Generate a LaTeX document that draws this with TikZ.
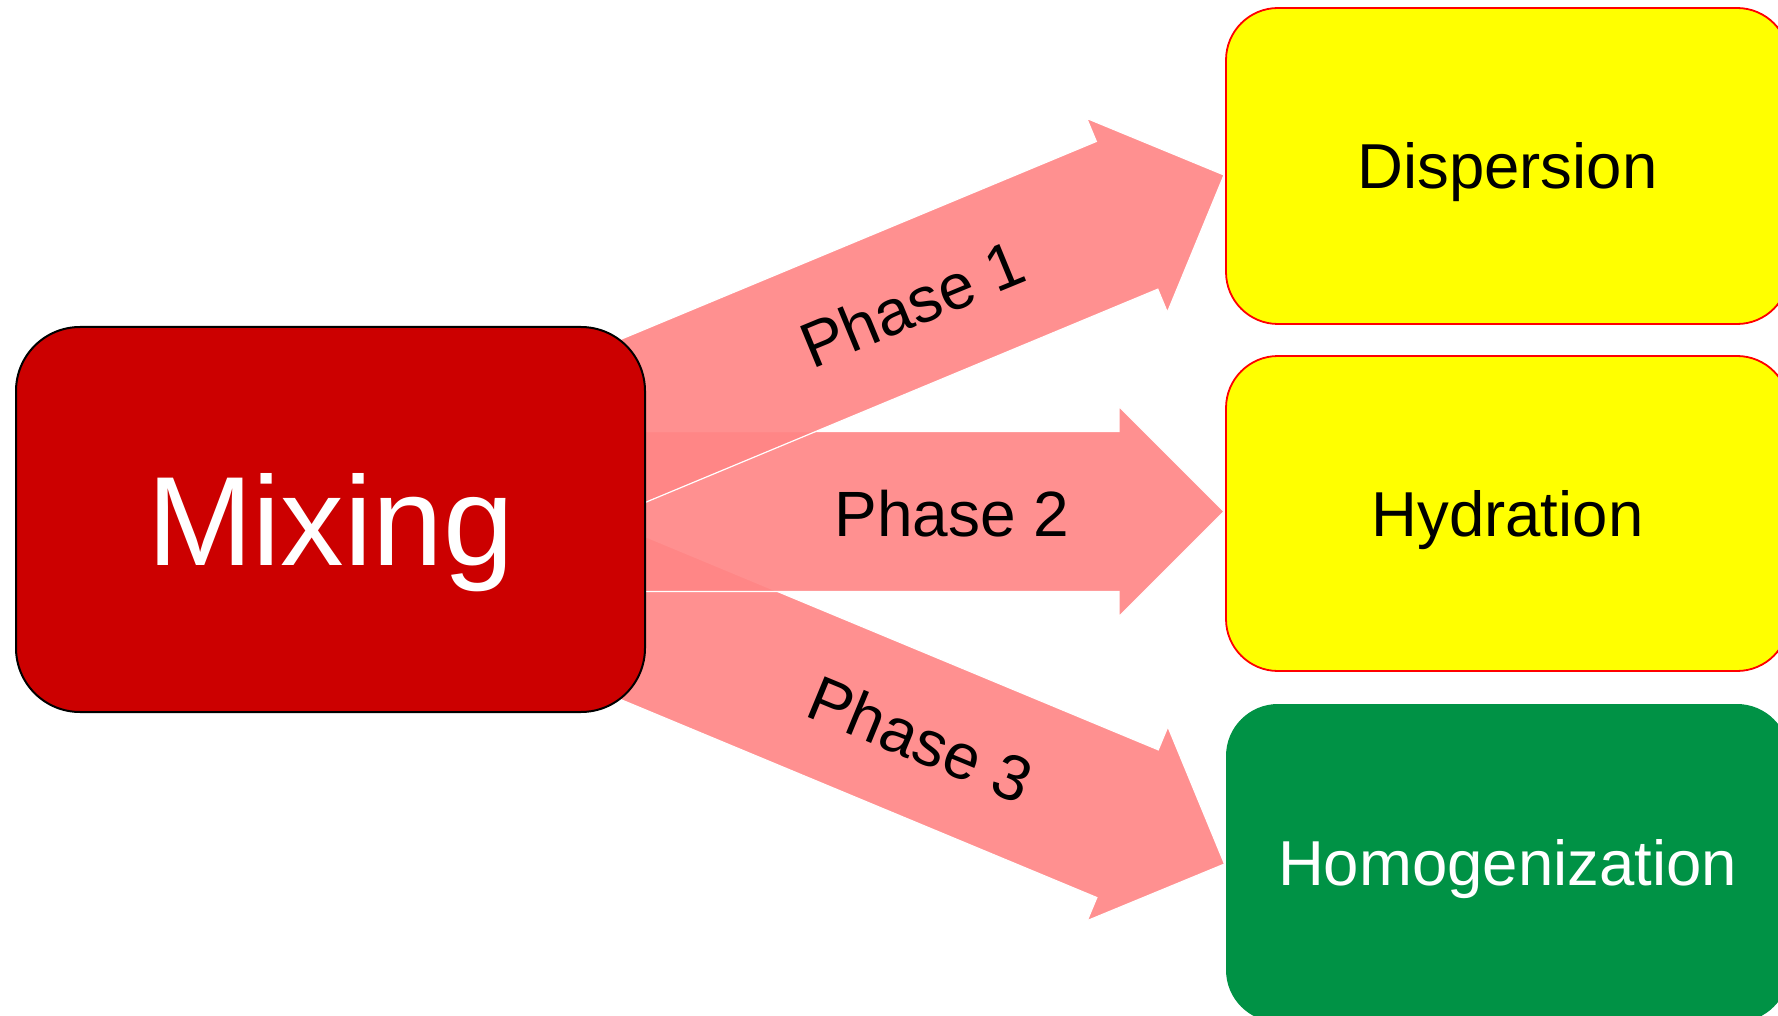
\documentclass[tikz,border=0pt]{standalone}
\usepackage{fontspec}
\setmainfont{Liberation Sans}
\usetikzlibrary{calc}
\definecolor{mixred}{RGB}{204,0,0}
\definecolor{arrowpink}{RGB}{255,134,134}
\definecolor{boxyellow}{RGB}{255,255,0}
\definecolor{boxgreen}{RGB}{0,146,69}
\definecolor{boxborder}{RGB}{255,0,0}
\tikzset{
  phasearrow/.style={fill=arrowpink, fill opacity=0.91, draw=white, line width=1.2pt, line join=miter},
  mixbox/.style={draw=black, line width=2pt, fill=mixred, rounded corners=64pt,
    minimum width=629pt, minimum height=385pt, inner sep=0pt, text=white,
    font=\fontsize{127}{127}\selectfont, text height=91pt, text depth=0pt},
  stagebox/.style={rounded corners=52pt, minimum width=563pt, inner sep=0pt,
    font=\fontsize{63.5}{63.5}\selectfont, text height=45.5pt, text depth=0pt},
  yellowbox/.style={stagebox, draw=boxborder, line width=1.8pt, fill=boxyellow, text=black},
  greenbox/.style={stagebox, fill=boxgreen, text=white},
  phaselabel/.style={anchor=base, inner sep=0pt, text=black, font=\fontsize{64}{64}\selectfont}
}
\newcommand\blockarrow[3]{%
  \coordinate (#3h) at ($(#2)!105pt!(#1)$);
  \filldraw[phasearrow]
    ($(#1)!80pt!90:(#2)$) -- ($(#3h)!80pt!-90:(#1)$) -- ($(#3h)!105pt!-90:(#1)$) --
    (#2) -- ($(#3h)!105pt!90:(#1)$) -- ($(#3h)!80pt!90:(#1)$) --
    ($(#1)!80pt!-90:(#2)$) -- cycle;
}
\begin{document}
\begin{tikzpicture}[x=1pt,y=-1pt]
\clip (0,0) rectangle (1778,1016);
\fill[white] (0,0) rectangle (1778,1016);
% arrow ends
\coordinate (tail1) at (414,512);
\coordinate (tip1) at (1224,175);
\coordinate (tail2) at (400,511.5);
\coordinate (tip2) at (1224,511.5);
\coordinate (tail3) at (378,512);
\coordinate (tip3) at (1224.5,864);
% arrows (bottom first)
\blockarrow{tail3}{tip3}{a3}
\blockarrow{tail2}{tip2}{a2}
\blockarrow{tail1}{tip1}{a1}
% boxes
\node[mixbox] (mix) at (330.5,519.5) {Mixing};
\node[yellowbox, minimum height=316pt] (disp) at (1507.5,166) {Dispersion};
\node[yellowbox, minimum height=315pt] (hyd) at (1507.5,513.5) {Hydration};
\node[greenbox, minimum height=318pt] (hom) at (1507.5,863) {Homogenization};
% labels
\node[phaselabel, rotate=22.4] (l1) at (921,325) {Phase 1};
\node[phaselabel] (l2) at (952,536) {Phase 2};
\node[phaselabel, rotate=-22.4] (l3) at (912,760) {Phase 3};
\end{tikzpicture}
\end{document}
